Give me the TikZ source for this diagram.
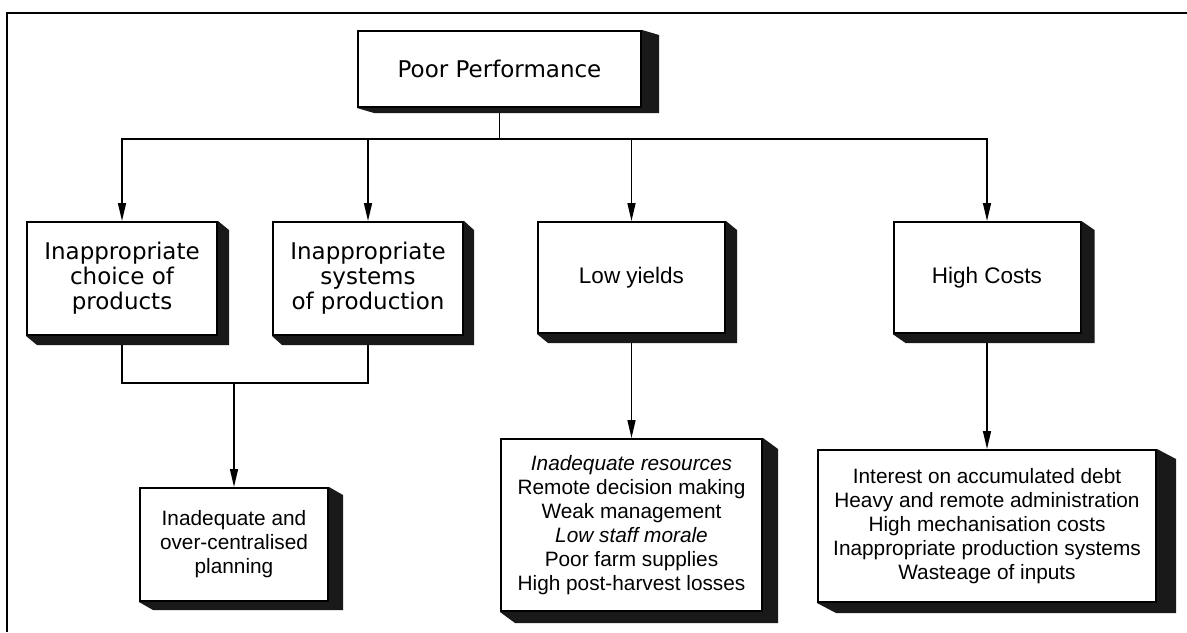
\documentclass[tikz,border=0pt]{standalone}
\usepackage{fontspec}
\setmainfont{Liberation Sans}
\newfontfamily\headfont{DejaVu Sans}
\usetikzlibrary{arrows.meta,calc}

\tikzset{
  box/.style={draw,line width=1pt,fill=white,inner sep=0pt,align=center},
  headbox/.style={box,font=\headfont\fontsize{11.5}{12.5}\selectfont},
  labelbox/.style={box,font=\fontsize{11.25}{13.5}\selectfont},
  listbox/.style={box,font=\fontsize{10.4}{12}\selectfont},
  link/.style={line width=0.75pt},
  arr/.style={link,-{Triangle[length=9pt,width=4pt]}}
}

\begin{document}
\begin{tikzpicture}[x=0.5pt,y=-0.5pt]
  \useasboundingbox (0,0) rectangle (1187,632);
  \draw[line width=1.2pt] (7,632) -- (7,13) -- (1187,13);

  % boxes
  \node[headbox,minimum width=141.5pt,minimum height=38pt] (pp) at (499.5,69) {Poor Performance};
  \node[headbox,minimum width=95pt,minimum height=56.5pt] (choice) at (122,278.5)
    {Inappropriate\\choice of\\products};
  \node[headbox,minimum width=95pt,minimum height=56.5pt] (systems) at (368,278.5)
    {Inappropriate\\systems\\of production};
  \node[labelbox,minimum width=93.5pt,minimum height=55.5pt] (yields) at (631.5,277.5) {Low yields};
  \node[labelbox,minimum width=93.5pt,minimum height=55.5pt] (costs) at (987,277.5) {High Costs};
  \node[listbox,minimum width=94pt,minimum height=56.5pt] (planning) at (234,544.5)
    {Inadequate and\\over-centralised\\planning};
  \node[listbox,minimum width=130.5pt,minimum height=86pt] (yldcause) at (631.5,525)
    {\itshape Inadequate resources\\Remote decision making\\Weak management\\
     \itshape Low staff morale\\Poor farm supplies\\High post-harvest losses};
  \node[listbox,minimum width=169pt,minimum height=76pt] (costcause) at (987,526)
    {Interest on accumulated debt\\Heavy and remote administration\\High mechanisation costs\\
     Inappropriate production systems\\Wasteage of inputs};

  % connectors
  \coordinate (split) at (499.5,139);
  \coordinate (join) at (234,383);
  \draw[link] (pp.south) -- (split);
  \draw[arr] (split) -| (choice.north);
  \draw[arr] (split) -| (systems.north);
  \draw[arr] (split) -| (yields.north);
  \draw[arr] (split) -| (costs.north);
  \draw[link] (choice.south) |- (join) -| (systems.south);
  \draw[arr] (join) -- (planning.north);
  \draw[arr] (yields.south) -- (yldcause.north);
  \draw[arr] (costs.south) -- (costcause.north);

  % shadows
  \foreach \n/\dx/\dy in {pp/17/5,choice/11/9,systems/10/9,yields/11/9,costs/13/9,
      planning/14/8,yldcause/15/11,costcause/19/10}{
    \fill[black!90] (\n.north east) -- ++(\dx,\dy) -- ($(\n.south east)+(\dx,\dy)$)
      -- ($(\n.south west)+(\dx,\dy)$) -- (\n.south west) -- (\n.south east) -- cycle;
  }
\end{tikzpicture}
\end{document}
